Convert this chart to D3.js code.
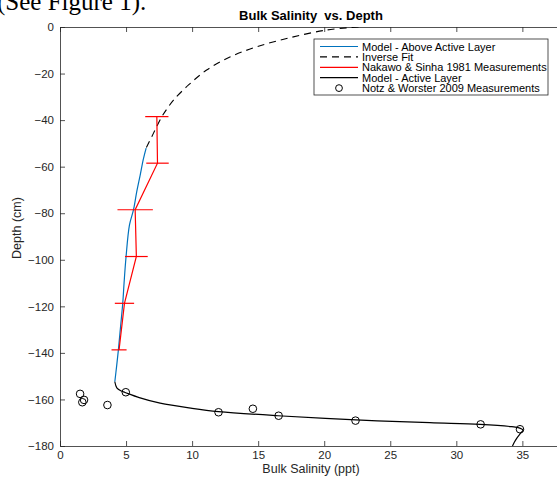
<!DOCTYPE html>
<meta charset="utf-8">
<style>
body { margin: 0; background: #fff; }
svg { font-family: "Liberation Sans", Arial, Helvetica, sans-serif; display: block; }
</style>
<svg width="557" height="477"></svg>
<script src="https://cdnjs.cloudflare.com/ajax/libs/d3/7.8.5/d3.min.js"></script>
<script>

// Model - Above Active Layer (blue)
var aboveSal   = [6.52, 6.3, 6.07, 5.81, 5.56, 5.26, 5.0, 4.85, 4.75, 4.58, 4.42, 4.28, 4.15];
var aboveDepth = [-52, -57, -63.6, -70.7, -78.6, -85, -98.7, -110, -118.7, -129, -138.7, -146, -152.4];

// Inverse Fit (dashed)
var fitSal   = [22.6, 20.2, 17.4, 14.9, 12.9, 11.1, 9.73, 8.59, 8.09, 7.71, 7.07, 6.52];
var fitDepth = [0, -1.3, -4.6, -8.5, -12.8, -18.5, -24.9, -31.4, -35.2, -38.5, -45.7, -52];

// Nakawo & Sinha 1981 Measurements (red, horizontal error bars)
var nsSal   = [7.33, 7.38, 5.69, 5.78, 4.88, 4.47];
var nsErr   = [0.88, 0.85, 1.34, 0.86, 0.73, 0.57];
var nsDepth = [-38.5, -58.5, -78.5, -98.6, -118.7, -138.7];

// Model - Active Layer (black)
var activeSal   = [4.15, 4.3, 4.6, 4.93, 6.0, 7.58, 10.0, 12.0, 16.5, 22.4, 28.0, 31.8, 34.2, 34.75, 35.05, 34.87, 34.57, 34.37, 34.25];
var activeDepth = [-152.4, -155, -156.3, -157, -159.2, -161.6, -163.8, -165.2, -167, -168.8, -170, -170.7, -171.7, -172.2, -173.2, -174.5, -176.7, -178.6, -180];

// Notz & Worster 2009 Measurements (circles)
var nwSal   = [1.52, 1.82, 1.69, 3.59, 4.98, 12.0, 14.6, 16.55, 22.37, 31.84, 34.82];
var nwDepth = [-157.6, -160.2, -161.2, -162.4, -156.9, -165.5, -164, -167, -169.1, -170.7, -172.8];

var xTicks = [0, 5, 10, 15, 20, 25, 30, 35];
var yTicks = [0, -20, -40, -60, -80, -100, -120, -140, -160, -180];

var legendLabels = ["Model - Above Active Layer", "Inverse Fit", "Nakawo & Sinha 1981 Measurements",
                    "Model - Active Layer", "Notz & Worster 2009 Measurements"];

var svg = d3.select("svg");
var mLeft = 60, mTop = 27, mRight = 562, mBottom = 446;

var x = d3.scaleLinear().domain([0, 38]).range([mLeft, mRight]);
var y = d3.scaleLinear().domain([0, -180]).range([mTop, mBottom]);

var axisColor = "#262626";

// text from the surrounding document, cut at the top
svg.append("text")
    .attr("x", -3).attr("y", 10)
    .style("font-family", "'Liberation Serif', 'Times New Roman', serif")
    .style("font-size", "25px")
    .attr("fill", "#000")
    .text("(See Figure 1).");

svg.append("clipPath").attr("id", "plotclip")
  .append("rect")
    .attr("x", mLeft).attr("y", mTop)
    .attr("width", mRight - mLeft).attr("height", mBottom - mTop + 1);

// axes
var xAxisB = d3.axisBottom(x).tickValues(xTicks).tickSizeInner(-5).tickSizeOuter(0).tickPadding(5);
var xAxisT = d3.axisTop(x).tickValues(xTicks).tickSizeInner(-5).tickSizeOuter(0).tickFormat("");
var yAxisL = d3.axisLeft(y).tickValues(yTicks).tickSizeInner(-5).tickSizeOuter(0).tickPadding(6);

function styleAxis(g) {
  g.select(".domain").attr("stroke", axisColor).attr("stroke-width", 0.8);
  g.selectAll(".tick line").attr("stroke", axisColor).attr("stroke-width", 0.8);
  g.selectAll(".tick text").attr("fill", axisColor).style("font-size", "11.5px")
      .style("font-family", "'Liberation Sans', Arial, sans-serif");
}

svg.append("g").attr("transform", "translate(0," + mBottom + ")").call(xAxisB).call(styleAxis);
svg.append("g").attr("transform", "translate(0," + mTop + ")").call(xAxisT).call(styleAxis);
svg.append("g").attr("transform", "translate(" + mLeft + ",0)").call(yAxisL).call(styleAxis);

var plot = svg.append("g").attr("clip-path", "url(#plotclip)");

var line = d3.line()
    .x(function(d) { return x(d[0]); })
    .y(function(d) { return y(d[1]); })
    .curve(d3.curveCatmullRom);

// inverse fit
plot.append("path")
    .datum(d3.zip(fitSal, fitDepth))
    .attr("d", line)
    .attr("fill", "none")
    .attr("stroke", "#000")
    .attr("stroke-width", 1.1)
    .attr("stroke-dasharray", "7,5");

// above active layer
plot.append("path")
    .datum(d3.zip(aboveSal, aboveDepth))
    .attr("d", line)
    .attr("fill", "none")
    .attr("stroke", "#0072BD")
    .attr("stroke-width", 1.2);

// Nakawo & Sinha
var nsData = d3.zip(nsSal, nsDepth, nsErr);
plot.append("path")
    .datum(nsData)
    .attr("d", d3.line().x(function(d) { return x(d[0]); }).y(function(d) { return y(d[1]); }))
    .attr("fill", "none")
    .attr("stroke", "#ff0000")
    .attr("stroke-width", 1.2);

plot.selectAll(".err")
    .data(nsData)
  .enter().append("line")
    .attr("class", "err")
    .attr("x1", function(d) { return x(d[0] - d[2]); })
    .attr("x2", function(d) { return x(d[0] + d[2]); })
    .attr("y1", function(d) { return y(d[1]); })
    .attr("y2", function(d) { return y(d[1]); })
    .attr("stroke", "#ff0000")
    .attr("stroke-width", 1.2);

// active layer
plot.append("path")
    .datum(d3.zip(activeSal, activeDepth))
    .attr("d", line)
    .attr("fill", "none")
    .attr("stroke", "#000")
    .attr("stroke-width", 1.2);

// Notz & Worster
svg.selectAll(".nw")
    .data(d3.zip(nwSal, nwDepth))
  .enter().append("circle")
    .attr("class", "nw")
    .attr("cx", function(d) { return x(d[0]); })
    .attr("cy", function(d) { return y(d[1]); })
    .attr("r", 3.8)
    .attr("fill", "none")
    .attr("stroke", "#000")
    .attr("stroke-width", 1);

// labels
svg.append("text")
    .attr("x", (mLeft + mRight) / 2).attr("y", 20)
    .attr("text-anchor", "middle")
    .attr("xml:space", "preserve")
    .style("font-size", "13px").style("font-weight", "bold")
    .attr("fill", "#000")
    .text("Bulk Salinity  vs. Depth");

svg.append("text")
    .attr("x", (mLeft + mRight) / 2).attr("y", 473)
    .attr("text-anchor", "middle")
    .style("font-size", "12.5px")
    .attr("fill", axisColor)
    .text("Bulk Salinity (ppt)");

svg.append("text")
    .attr("transform", "translate(21,228) rotate(-90)")
    .attr("text-anchor", "middle")
    .style("font-size", "12.5px")
    .attr("fill", axisColor)
    .text("Depth (cm)");

// legend
var lg = svg.append("g").attr("transform", "translate(314,39)");
lg.append("rect")
    .attr("width", 234).attr("height", 56)
    .attr("fill", "#fff")
    .attr("stroke", axisColor)
    .attr("stroke-width", 0.8);

var legendStyles = [
  { stroke: "#0072BD", dash: null },
  { stroke: "#000", dash: "7,5" },
  { stroke: "#ff0000", dash: null },
  { stroke: "#000", dash: null },
  { stroke: null, dash: null }
];

var rows = lg.selectAll(".row")
    .data(legendLabels)
  .enter().append("g")
    .attr("class", "row")
    .attr("transform", function(d, i) { return "translate(0," + (7.5 + i * 10.4) + ")"; });

rows.each(function(d, i) {
  var g = d3.select(this), s = legendStyles[i];
  if (s.stroke) {
    g.append("line")
        .attr("x1", 6).attr("x2", 44).attr("y1", 0).attr("y2", 0)
        .attr("stroke", s.stroke).attr("stroke-width", 1.2)
        .attr("stroke-dasharray", s.dash);
  } else {
    g.append("circle").attr("cx", 25).attr("cy", 0).attr("r", 3.4)
        .attr("fill", "none").attr("stroke", "#000").attr("stroke-width", 1);
  }
  g.append("text")
      .attr("x", 48).attr("y", 4)
      .style("font-size", "11px")
      .attr("fill", "#000")
      .text(d);
});

</script>
